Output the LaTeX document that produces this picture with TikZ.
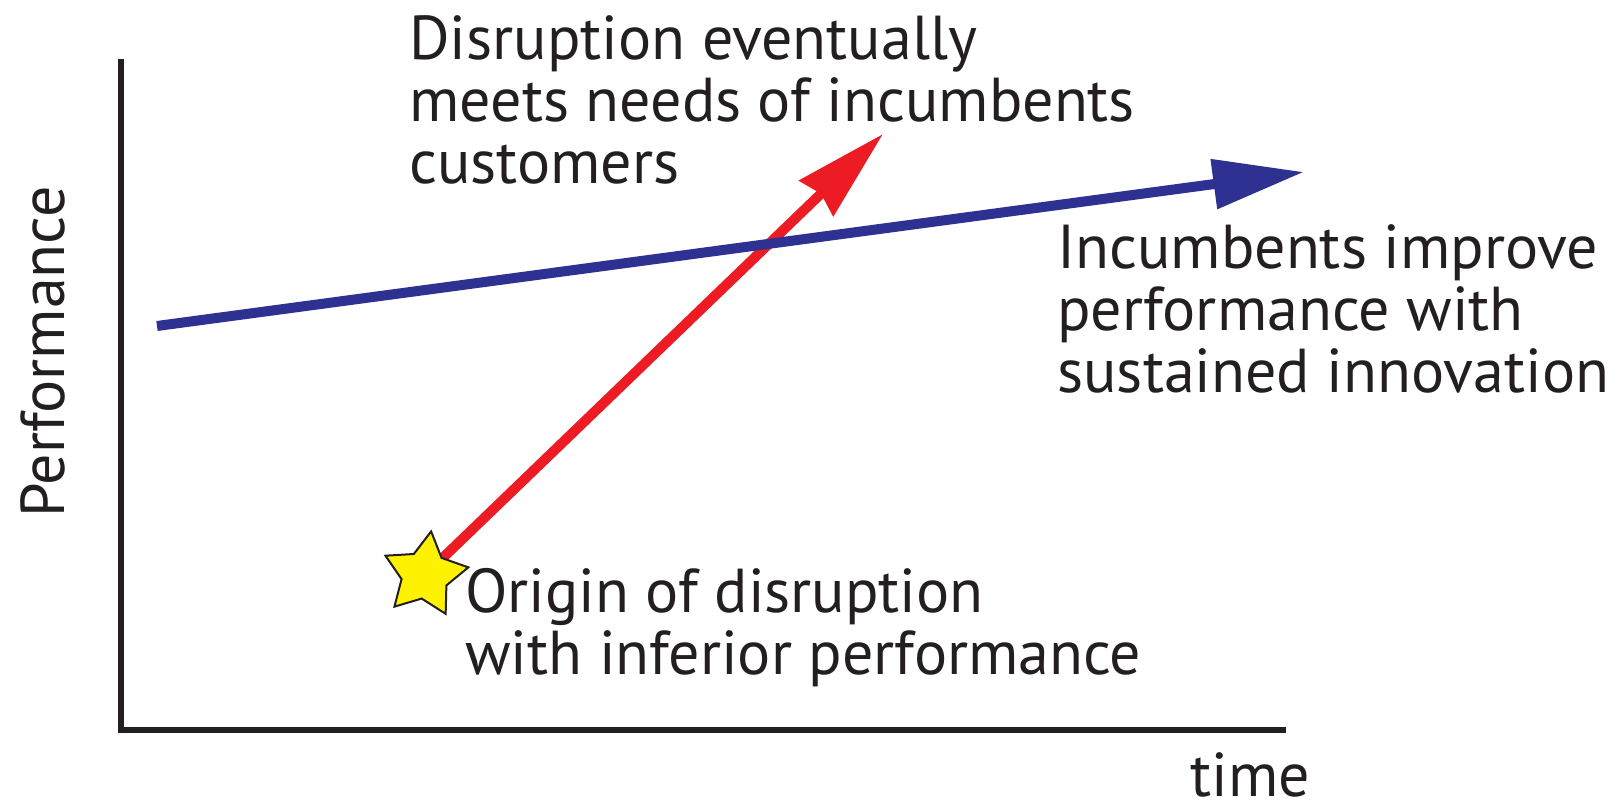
\documentclass[tikz,border=0pt]{standalone}
\usepackage{fontspec}
\setmainfont{PT Sans}
\usepackage{tikz}
\usetikzlibrary{arrows.meta, shapes.geometric, backgrounds}

\definecolor{ink}{HTML}{231F20}
\definecolor{sustblue}{HTML}{2E3192}
\definecolor{disred}{HTML}{ED1C24}
\definecolor{staryellow}{HTML}{FFF200}

\begin{document}
\begin{tikzpicture}[
    x=0.5pt, y=-0.5pt,
    label/.style={anchor=base west, align=left, text=ink, inner sep=0pt,
                  font=\fontsize{31}{31}\selectfont},
    axis/.style={draw=ink, line width=2.8pt, line join=miter},
    arr/.style={line width=5pt},
    sustarr/.style={arr, draw=sustblue, -{Triangle[length=45.5pt, width=24pt]}},
    disarr/.style={arr, draw=disred, -{Stealth[length=46pt, width=24pt, inset=3pt]}},
    spark/.style={star, star points=5, star point ratio=1.85, minimum size=44pt,
                  inner sep=0pt, draw=ink, line width=1pt, fill=staryellow, rotate=-8}
]
\useasboundingbox (0,0) rectangle (1622,806);

\coordinate (ytop)    at (121,59);
\coordinate (xend)    at (1286,730);
\coordinate (incfrom) at (157,326);
\coordinate (incto)   at (1304,172);
\coordinate (disto)   at (883,134);

\draw[axis] (ytop) |- (xend);

\node[label, rotate=90, anchor=base] (perf) at (64,352) {Performance};
\node[label] (time) at (1190,796) {time};

\draw[sustarr] (incfrom) -- (incto);

\node[spark] (origin) at (425,575) {};
\begin{scope}[on background layer]
  \draw[disarr] (origin.center) -- (disto);
\end{scope}

\node[label] (meets)    at (409,184)  {Disruption eventually\\meets needs of incumbents\\customers};
\node[label] (improve)  at (1057,393) {Incumbents improve\\performance with\\sustained innovation};
\node[label] (inferior) at (465,674)  {Origin of disruption\\with inferior performance};
\end{tikzpicture}
\end{document}
